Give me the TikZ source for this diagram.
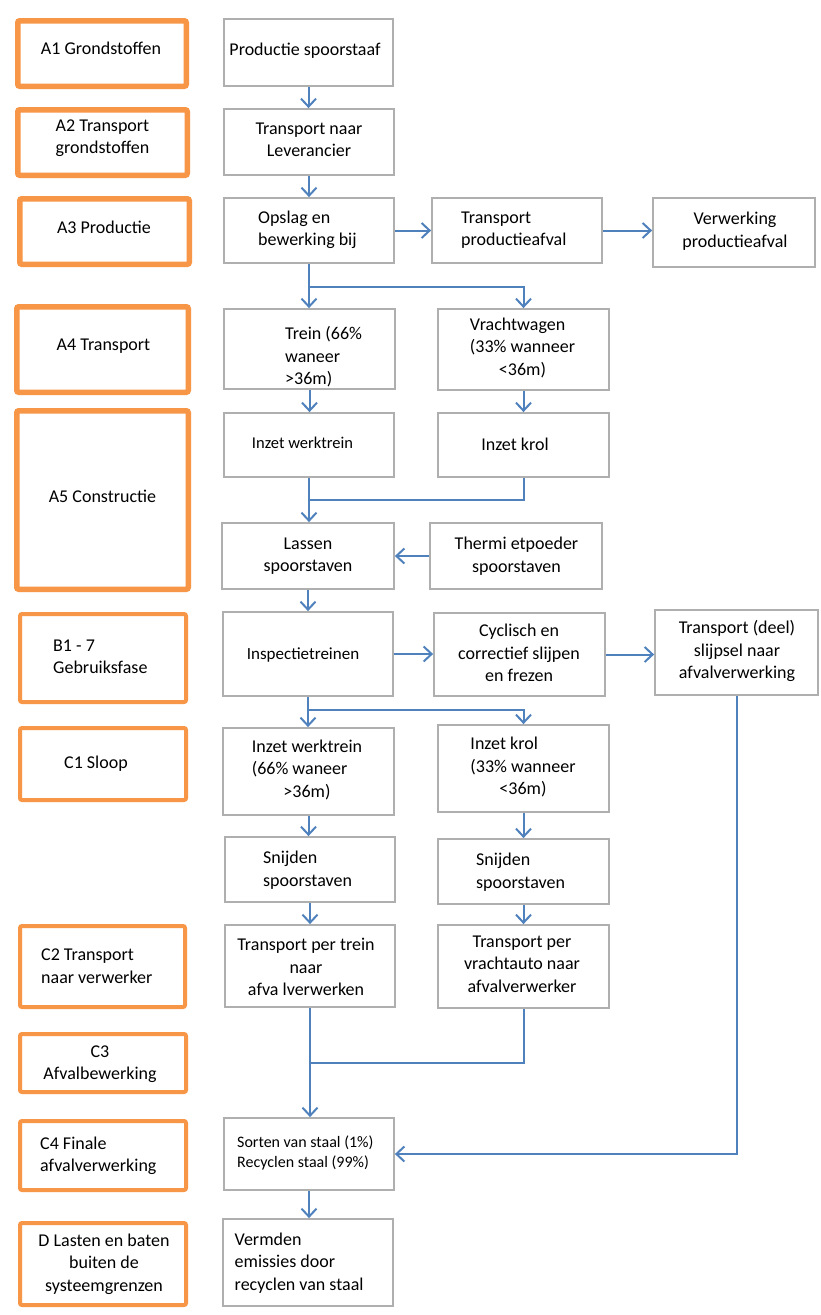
\documentclass[tikz,border=0pt]{standalone}
\usepackage{fontspec}
\setmainfont{Carlito}
\usetikzlibrary{arrows.meta}
\definecolor{oline}{RGB}{247,150,70}
\definecolor{gline}{RGB}{175,175,175}
\definecolor{bline}{RGB}{79,129,189}
\tikzset{
  sz/.style 2 args={minimum width=#1, minimum height=#2},
  obox/.style={draw=oline, line width=5.5pt, rounded corners=2pt, inner sep=0pt},
  oboxthin/.style={draw=oline, line width=4pt, rounded corners=2pt, inner sep=0pt},
  gbox/.style={draw=gline, line width=1.8pt, inner sep=0pt},
  txt/.style={inner sep=0pt, font=\fontsize{18}{22.5}\selectfont, align=center},
  ltxt/.style={txt, align=left, anchor=west},
  conn/.style={draw=bline, line width=2pt},
  arr/.style={conn, -{Straight Barb[length=8pt,width=15pt]}}
}
\begin{document}
\begin{tikzpicture}[x=1pt,y=-1pt]
\fill[white] (0,0) rectangle (820,1315);
\useasboundingbox (0,0) rectangle (820,1315);

% ---------- left phase boxes ----------
\node[obox, sz={168.5}{65.5}] (a1) at (102,53.5) {};
\node[obox, sz={169.5}{65.5}] (a2) at (102.5,142.5) {};
\node[obox, sz={169.5}{65.5}] (a3) at (104.5,231.5) {};
\node[obox, sz={171.5}{85.5}] (a4) at (102.5,349.5) {};
\node[obox, sz={171.5}{178.5}] (a5) at (102.5,500) {};
\node[oboxthin, sz={166}{88}] (b1) at (103,658) {};
\node[oboxthin, sz={166}{72}] (c1) at (103,764) {};
\node[oboxthin, sz={165}{81}] (c2) at (102.5,966.5) {};
\node[oboxthin, sz={166}{58}] (c3) at (103,1063) {};
\node[oboxthin, sz={166}{69}] (c4) at (103,1155.5) {};
\node[oboxthin, sz={166}{82}] (dd) at (103,1264) {};

\node[txt] (a1t) at (101,48) {A1 Grondstoffen};
\node[txt] (a2t) at (102.5,138) {A2 Transport\\grondstoffen};
\node[txt] (a3t) at (104,227) {A3 Productie};
\node[txt] (a4t) at (103.5,346) {A4 Transport};
\node[txt] (a5t) at (102.5,496) {A5 Constructie};
\node[ltxt] (b1t) at (53,657) {B1 - 7\\Gebruiksfase};
\node[txt] (c1t) at (96,764) {C1 Sloop};
\node[ltxt] (c2t) at (41,966) {C2 Transport\\naar verwerker};
\node[txt] (c3t) at (100,1064) {C3\\Afvalbewerking};
\node[ltxt] (c4t) at (40,1156) {C4 Finale\\afvalverwerking};
\node[txt] (ddt) at (104,1264) {D Lasten en baten\\buiten de\\systeemgrenzen};

% ---------- process boxes ----------
\node[gbox, sz={169}{67}] (p1) at (308.5,52.5) {};
\node[gbox, sz={170}{66}] (p2) at (309,142) {};
\node[gbox, sz={170}{65}] (p3) at (309,230.5) {};
\node[gbox, sz={170}{65}] (p4) at (517,230.5) {};
\node[gbox, sz={162}{69}] (p5) at (734,232.5) {};
\node[gbox, sz={171}{80}] (t1) at (309.5,349) {};
\node[gbox, sz={171}{81}] (t2) at (523.5,349.5) {};
\node[gbox, sz={170}{64}] (i1) at (309,445) {};
\node[gbox, sz={171}{64}] (i2) at (523.5,445) {};
\node[gbox, sz={172}{66}] (ls) at (308,556) {};
\node[gbox, sz={172}{66}] (th) at (516,556) {};
\node[gbox, sz={170}{84}] (insp) at (308,654) {};
\node[gbox, sz={171}{83}] (cyc) at (519.5,654.5) {};
\node[gbox, sz={163}{85}] (td) at (736.5,652.5) {};
\node[gbox, sz={171}{87}] (s1) at (308.5,771.5) {};
\node[gbox, sz={171}{87}] (s2) at (523.5,768.5) {};
\node[gbox, sz={170}{65}] (n1) at (310,869.5) {};
\node[gbox, sz={171}{65}] (n2) at (523.5,871.5) {};
\node[gbox, sz={170}{82}] (r1) at (310,966) {};
\node[gbox, sz={171}{83}] (r2) at (523.5,966.5) {};
\node[gbox, sz={170}{72}] (so) at (309,1154) {};
\node[gbox, sz={170}{87}] (vm) at (308,1262.5) {};

\node[txt] (p1t) at (305,51) {Productie spoorstaaf};
\node[txt] (p2t) at (309,140) {Transport naar\\Leverancier};
\node[ltxt] (p3t) at (258,230) {Opslag en\\bewerking bij};
\node[ltxt] (p4t) at (461,230) {Transport\\productieafval};
\node[txt] (p5t) at (735,231) {Verwerking\\productieafval};
\node[ltxt] (t1t) at (285,357) {Trein (66\%\\waneer\\>36m)};
\node[txt] (t2t) at (522.5,348) {\begin{tabular}{@{}l@{}}Vrachtwagen\\(33\% wanneer\\\multicolumn{1}{@{}c@{}}{<36m)}\end{tabular}};
\node[txt, font=\fontsize{16.5}{20}\selectfont] (i1t) at (302.5,443) {Inzet werktrein};
\node[txt] (i2t) at (515,444) {Inzet krol};
\node[txt] (lst) at (308,556) {Lassen\\spoorstaven};
\node[txt] (tht) at (516.5,556) {Thermi etpoeder\\spoorstaven};
\node[txt, font=\fontsize{17}{21}\selectfont] (inspt) at (303,655) {Inspectietreinen};
\node[txt] (cyct) at (519,653) {Cyclisch en\\correctief slijpen\\en frezen};
\node[txt] (tdt) at (737,651) {Transport (deel)\\slijpsel naar\\afvalverwerking};
\node[txt] (s1t) at (307,770) {\begin{tabular}{@{}l@{}}Inzet werktrein\\(66\% waneer\\\multicolumn{1}{@{}c@{}}{>36m)}\end{tabular}};
\node[txt] (s2t) at (523,767.5) {\begin{tabular}{@{}l@{}}Inzet krol\\(33\% wanneer\\\multicolumn{1}{@{}c@{}}{<36m)}\end{tabular}};
\node[ltxt] (n1t) at (263,870) {Snijden\\spoorstaven};
\node[ltxt] (n2t) at (476,872) {Snijden\\spoorstaven};
\node[txt] (r1t) at (306,967) {Transport per trein\\naar\\afva lverwerken};
\node[txt] (r2t) at (522,964) {Transport per\\vrachtauto naar\\afvalverwerker};
\node[ltxt, font=\fontsize{16}{19.5}\selectfont] (sot) at (237,1153) {Sorten van staal (1\%)\\Recyclen staal (99\%)};
\node[ltxt] (vmt) at (234.5,1263) {Vermden\\emissies door\\recyclen van staal};

% ---------- connectors ----------
\coordinate (j1) at (309,287);
\coordinate (j2) at (309,500);
\coordinate (j3) at (308,710);
\coordinate (j4) at (310,1063);

\draw[arr] (p1.south) -- (p1.south |- p2.north);
\draw[arr] (p2.south) -- (p2.south |- p3.north);
\draw[arr] (p3.east) -- (p3.east -| p4.west);
\draw[arr] (p4.east) -- (p4.east -| p5.west);
\draw[arr] (p3.south) -- (p3.south |- t1.north);
\draw[arr] (j1) -| (t2.north);
\draw[arr] (t1.south) -- (t1.south |- i1.north);
\draw[arr] (t2.south) -- (t2.south |- i2.north);
\draw[arr] (i1.south) -- (i1.south |- ls.north);
\draw[conn] (i2.south) |- (j2);
\draw[arr] (th.west) -- (th.west -| ls.east);
\draw[arr] (ls.south) -- (ls.south |- insp.north);
\draw[arr] (insp.east) -- (insp.east -| cyc.west);
\draw[arr] (cyc.east) -- (cyc.east -| td.west);
\draw[arr] (insp.south) -- (insp.south |- s1.north);
\draw[arr] (j3) -| (s2.north);
\draw[arr] (s1.south) -- (s1.south |- n1.north);
\draw[arr] (s2.south) -- (s2.south |- n2.north);
\draw[arr] (n1.south) -- (n1.south |- r1.north);
\draw[arr] (n2.south) -- (n2.south |- r2.north);
\draw[arr] (r1.south) -- (r1.south |- so.north);
\draw[conn] (r2.south) |- (j4);
\draw[arr] (td.south) |- (so.east);
\draw[arr] (so.south) -- (so.south |- vm.north);
\end{tikzpicture}
\end{document}
